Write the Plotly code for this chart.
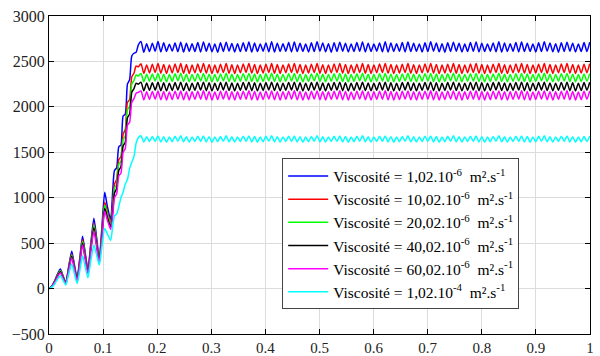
import numpy as np
import plotly.graph_objects as go

# ---- startup phase (shared sample times) ----
t_start = [0.000, 0.005, 0.010, 0.015, 0.021, 0.026, 0.031, 0.036, 0.042, 0.047,
           0.052, 0.057, 0.062, 0.067, 0.072, 0.077, 0.083, 0.088, 0.093, 0.098,
           0.103, 0.108, 0.114, 0.118, 0.121, 0.125, 0.129, 0.133, 0.137, 0.141,
           0.145, 0.149, 0.153, 0.157, 0.161, 0.165]

blue_start = [0, 25, 80, 150, 215, 140, 65, 230, 410, 260, 110, 340, 575, 390, 210, 480, 775, 560, 330, 690,
              1060, 900, 760, 1100, 1300, 1330, 1560, 1580, 1900, 1920, 2250, 2300, 2560, 2590, 2600, 2680]
red_start = [0, 23, 75, 140, 200, 130, 60, 215, 380, 240, 100, 315, 540, 365, 195, 450, 720, 520, 310, 640,
             950, 840, 720, 950, 1150, 1200, 1420, 1450, 1700, 1750, 2050, 2080, 2330, 2370, 2450, 2440]
green_start = [0, 22, 72, 135, 195, 125, 58, 205, 370, 235, 95, 305, 520, 350, 185, 435, 700, 500, 300, 620,
               920, 810, 700, 900, 1100, 1150, 1370, 1400, 1640, 1680, 1970, 2000, 2250, 2290, 2350, 2340]
black_start = [0, 21, 68, 128, 185, 120, 55, 195, 355, 225, 90, 290, 500, 335, 175, 415, 670, 480, 290, 595,
               880, 780, 680, 860, 1050, 1100, 1300, 1340, 1570, 1610, 1880, 1920, 2160, 2200, 2260, 2250]
magenta_start = [0, 20, 65, 120, 175, 112, 52, 185, 340, 215, 85, 275, 480, 320, 165, 395, 640, 460, 280, 570,
                 850, 750, 650, 820, 1000, 1040, 1240, 1270, 1500, 1540, 1800, 1830, 2050, 2090, 2150, 2160]
cyan_start = [0, 15, 45, 95, 140, 90, 40, 150, 270, 165, 55, 200, 360, 240, 120, 300, 480, 370, 260, 470,
              660, 600, 530, 700, 800, 820, 900, 1000, 1060, 1150, 1200, 1320, 1390, 1450, 1600, 1660]

# ---- steady state: ripple peaks and troughs ----
ss_first, ss_last = 0.170, 0.9995

blue_peaks = [2720,2695,2700,2718,2705,2690,2702,2712,2700,2695,
              2708,2715,2700,2692,2705,2712,2698,2694,2706,2714,
              2702,2693,2704,2716,2701,2695,2707,2713,2699,2692,
              2705,2717,2703,2694,2706,2712,2700,2693,2708,2715,
              2701,2692,2704,2716,2702,2695,2707,2713,2699,2693,
              2705,2717,2702,2694,2706,2712,2700,2692,2708,2715,
              2701,2693,2704,2716,2702,2695,2707,2713,2699,2692,
              2705,2717,2703,2694,2706,2712,2700,2693,2708,2712]
blue_troughs = [2600,2608,2612,2605,2610,2614,2606,2603,2611,2609,
                2604,2612,2607,2602,2610,2613,2605,2608,2611,2604,
                2609,2613,2606,2603,2610,2612,2605,2608,2611,2604,
                2609,2613,2606,2602,2610,2612,2605,2608,2611,2604,
                2609,2613,2606,2603,2610,2612,2605,2608,2611,2604,
                2609,2613,2606,2602,2610,2612,2605,2608,2611,2604,
                2609,2613,2606,2603,2610,2612,2605,2608,2611,2604,
                2609,2613,2606,2602,2610,2612,2605,2608,2610]

red_peaks = [2475,2462,2470,2478,2466,2460,2472,2476,2465,2461,
             2471,2477,2466,2460,2469,2476,2464,2462,2472,2478,
             2467,2460,2470,2476,2465,2461,2471,2477,2466,2460,
             2469,2476,2464,2462,2472,2478,2467,2460,2470,2476,
             2465,2461,2471,2477,2466,2460,2469,2476,2464,2462,
             2472,2478,2467,2460,2470,2476,2465,2461,2471,2477,
             2466,2460,2469,2476,2464,2462,2472,2478,2467,2460,
             2470,2476,2465,2461,2471,2477,2466,2460,2469,2474]
red_troughs = [2368,2374,2378,2370,2366,2373,2377,2369,2367,2375,
               2378,2370,2366,2372,2377,2369,2367,2375,2378,2371,
               2366,2373,2377,2369,2367,2375,2378,2370,2366,2372,
               2377,2369,2367,2375,2378,2371,2366,2373,2377,2369,
               2367,2375,2378,2370,2366,2372,2377,2369,2367,2375,
               2378,2371,2366,2373,2377,2369,2367,2375,2378,2370,
               2366,2372,2377,2369,2367,2375,2378,2371,2366,2373,
               2377,2369,2367,2375,2378,2370,2366,2372,2376]

green_peaks = [2366,2358,2362,2368,2360,2356,2364,2369,2359,2357,
               2365,2368,2360,2356,2363,2369,2358,2357,2365,2368,
               2361,2356,2364,2369,2359,2357,2365,2368,2360,2356,
               2363,2369,2358,2357,2365,2368,2361,2356,2364,2369,
               2359,2357,2365,2368,2360,2356,2363,2369,2358,2357,
               2365,2368,2361,2356,2364,2369,2359,2357,2365,2368,
               2360,2356,2363,2369,2358,2357,2365,2368,2361,2356,
               2364,2369,2359,2357,2365,2368,2360,2356,2363,2366]
green_troughs = [2276,2282,2285,2278,2275,2281,2286,2279,2276,2283,
                 2285,2278,2275,2280,2286,2279,2276,2283,2285,2278,
                 2275,2281,2286,2279,2276,2283,2285,2278,2275,2280,
                 2286,2279,2276,2283,2285,2278,2275,2281,2286,2279,
                 2276,2283,2285,2278,2275,2280,2286,2279,2276,2283,
                 2285,2278,2275,2281,2286,2279,2276,2283,2285,2278,
                 2275,2280,2286,2279,2276,2283,2285,2278,2275,2281,
                 2286,2279,2276,2283,2285,2278,2275,2280,2284]

black_peaks = [2272,2262,2266,2270,2264,2260,2268,2271,2263,2261,
               2269,2272,2264,2260,2267,2271,2262,2261,2269,2272,
               2265,2260,2268,2271,2263,2261,2269,2272,2264,2260,
               2267,2271,2262,2261,2269,2272,2265,2260,2268,2271,
               2263,2261,2269,2272,2264,2260,2267,2271,2262,2261,
               2269,2272,2265,2260,2268,2271,2263,2261,2269,2272,
               2264,2260,2267,2271,2262,2261,2269,2272,2265,2260,
               2268,2271,2263,2261,2269,2272,2264,2260,2267,2270]
black_troughs = [2176,2182,2185,2178,2175,2181,2186,2179,2176,2183,
                 2185,2178,2175,2180,2186,2179,2176,2183,2185,2178,
                 2175,2181,2186,2179,2176,2183,2185,2178,2175,2180,
                 2186,2179,2176,2183,2185,2178,2175,2181,2186,2179,
                 2176,2183,2185,2178,2175,2180,2186,2179,2176,2183,
                 2185,2178,2175,2181,2186,2179,2176,2183,2185,2178,
                 2175,2180,2186,2179,2176,2183,2185,2178,2175,2181,
                 2186,2179,2176,2183,2185,2178,2175,2180,2184]

magenta_peaks = [2176,2166,2170,2174,2168,2164,2172,2175,2167,2165,
                 2173,2176,2168,2164,2171,2175,2166,2165,2173,2176,
                 2169,2164,2172,2175,2167,2165,2173,2176,2168,2164,
                 2171,2175,2166,2165,2173,2176,2169,2164,2172,2175,
                 2167,2165,2173,2176,2168,2164,2171,2175,2166,2165,
                 2173,2176,2169,2164,2172,2175,2167,2165,2173,2176,
                 2168,2164,2171,2175,2166,2165,2173,2176,2169,2164,
                 2172,2175,2167,2165,2173,2176,2168,2164,2171,2174]
magenta_troughs = [2076,2082,2085,2078,2075,2081,2086,2079,2076,2083,
                   2085,2078,2075,2080,2086,2079,2076,2083,2085,2078,
                   2075,2081,2086,2079,2076,2083,2085,2078,2075,2080,
                   2086,2079,2076,2083,2085,2078,2075,2081,2086,2079,
                   2076,2083,2085,2078,2075,2080,2086,2079,2076,2083,
                   2085,2078,2075,2081,2086,2079,2076,2083,2085,2078,
                   2075,2080,2086,2079,2076,2083,2085,2078,2075,2081,
                   2086,2079,2076,2083,2085,2078,2075,2080,2084]

cyan_peaks = [1682,1670,1674,1680,1672,1668,1676,1681,1671,1669,
              1677,1680,1672,1668,1675,1681,1670,1669,1677,1680,
              1673,1668,1676,1681,1671,1669,1677,1680,1672,1668,
              1675,1681,1670,1669,1677,1680,1673,1668,1676,1681,
              1671,1669,1677,1680,1672,1668,1675,1681,1670,1669,
              1677,1680,1673,1668,1676,1681,1671,1669,1677,1680,
              1672,1668,1675,1681,1670,1669,1677,1680,1673,1668,
              1676,1681,1671,1669,1677,1680,1672,1668,1675,1678]
cyan_troughs = [1612,1618,1620,1614,1611,1617,1621,1615,1612,1619,
                1620,1614,1611,1616,1621,1615,1612,1619,1620,1614,
                1611,1617,1621,1615,1612,1619,1620,1614,1611,1616,
                1621,1615,1612,1619,1620,1614,1611,1617,1621,1615,
                1612,1619,1620,1614,1611,1616,1621,1615,1612,1619,
                1620,1614,1611,1617,1621,1615,1612,1619,1620,1614,
                1611,1616,1621,1615,1612,1619,1620,1614,1611,1617,
                1621,1615,1612,1619,1620,1614,1611,1616,1619]

labels = [
    "Viscosité = 1,02.10<sup>-6</sup>&nbsp; m².s<sup>-1</sup>",
    "Viscosité = 10,02.10<sup>-6</sup>&nbsp; m².s<sup>-1</sup>",
    "Viscosité = 20,02.10<sup>-6</sup>&nbsp; m².s<sup>-1</sup>",
    "Viscosité = 40,02.10<sup>-6</sup>&nbsp; m².s<sup>-1</sup>",
    "Viscosité = 60,02.10<sup>-6</sup>&nbsp; m².s<sup>-1</sup>",
    "Viscosité = 1,02.10<sup>-4</sup>&nbsp; m².s<sup>-1</sup>",
]
colors = ["#0000FF", "#FF0000", "#00FF00", "#000000", "#FF00FF", "#00FFFF"]

x_ticks = [0, 0.1, 0.2, 0.3, 0.4, 0.5, 0.6, 0.7, 0.8, 0.9, 1]
x_ticklabels = ["0", "0.1", "0.2", "0.3", "0.4", "0.5", "0.6", "0.7", "0.8", "0.9", "1"]
y_ticks = [-500, 0, 500, 1000, 1500, 2000, 2500, 3000]

series = [
    (blue_start, blue_peaks, blue_troughs),
    (red_start, red_peaks, red_troughs),
    (green_start, green_peaks, green_troughs),
    (black_start, black_peaks, black_troughs),
    (magenta_start, magenta_peaks, magenta_troughs),
    (cyan_start, cyan_peaks, cyan_troughs),
]


def interleave(peaks, troughs):
    out = []
    for i, p in enumerate(peaks):
        out.append(p)
        if i < len(troughs):
            out.append(troughs[i])
    return out


fig = go.Figure()
for k, ((start, peaks, troughs), lab, col) in enumerate(zip(series, labels, colors)):
    ss_vals = interleave(peaks, troughs)
    t_ss = np.linspace(ss_first, ss_last, len(ss_vals))
    x = list(t_start) + list(t_ss)
    y = list(start) + ss_vals
    fig.add_trace(go.Scatter(x=x, y=y, mode="lines", name=lab, legendgroup=f"g{k}",
                             line=dict(color=col, width=1.5, shape="spline", smoothing=0.6)))

font_family = "Liberation Serif"
axis_common = dict(showline=True, linecolor="black", linewidth=1, mirror="ticks",
                   ticks="inside", ticklen=5, tickcolor="black", automargin=False,
                   showgrid=True, gridcolor="#DCDCDC", gridwidth=1, zeroline=False)

fig.update_layout(
    width=600, height=356,
    margin=dict(l=49, r=10, t=16, b=22),
    paper_bgcolor="white", plot_bgcolor="white",
    font=dict(family=font_family, size=15, color="black"),
    showlegend=True,
    legend=dict(x=0.431, y=0.552, xanchor="left", yanchor="top",
                bgcolor="white", bordercolor="#444", borderwidth=1,
                font=dict(family=font_family, size=15.5, color="black"),
                tracegroupgap=0, itemwidth=40),
)
fig.update_xaxes(range=[0, 1], tickvals=x_ticks, ticktext=x_ticklabels,
                 tickfont=dict(family=font_family, size=15, color="#222"), **axis_common)
fig.update_yaxes(range=[-500, 3000], tickvals=y_ticks,
                 tickfont=dict(family=font_family, size=16, color="#222"), **axis_common)

fig.write_html("out.html", post_script="document.body.style.margin='0';",
               config={"displayModeBar": False})
